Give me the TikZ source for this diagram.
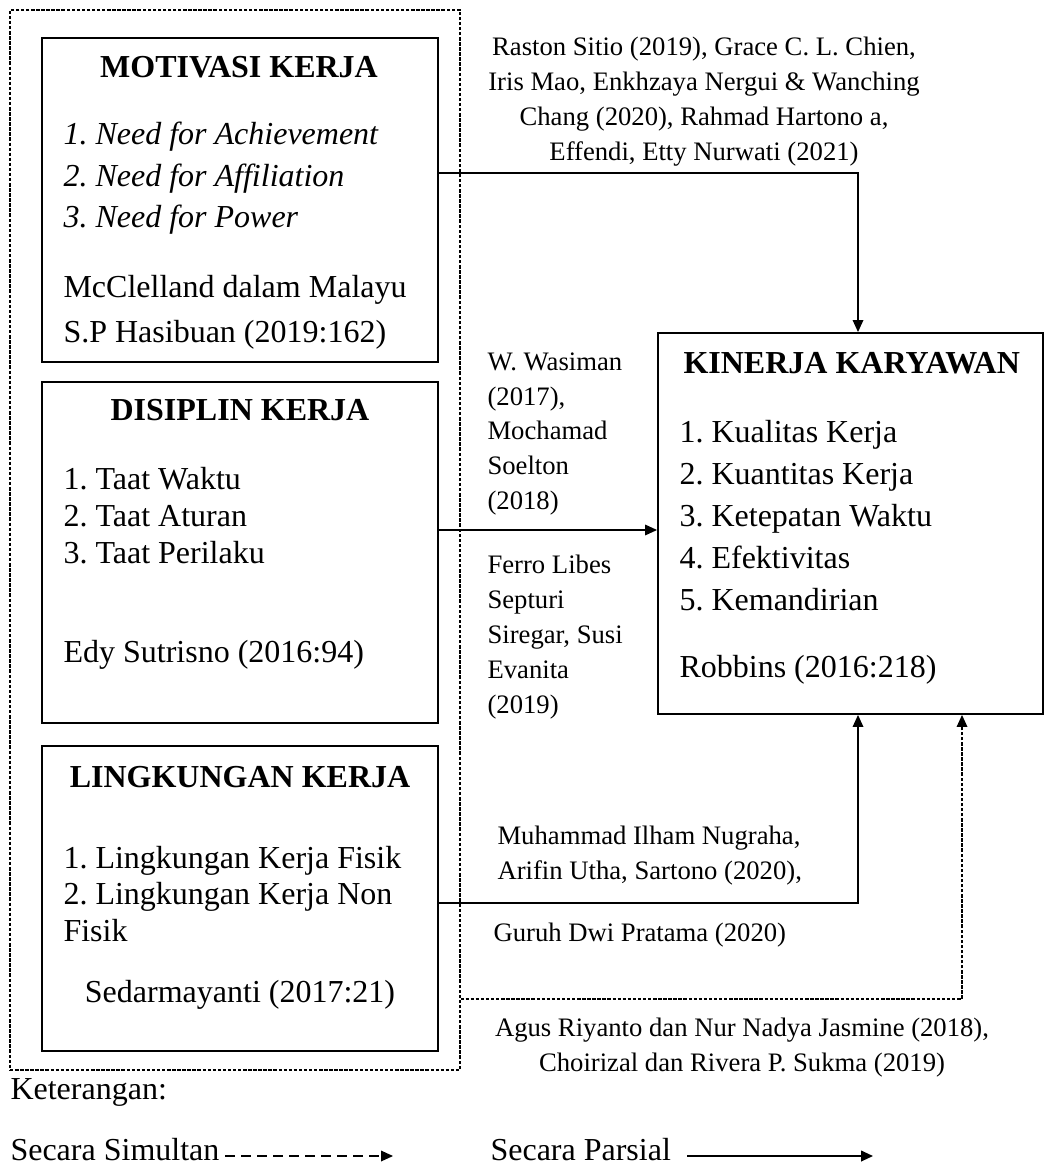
\documentclass[tikz,border=0pt]{standalone}
\usepackage{fontspec}
\setmainfont{Liberation Serif}
\usetikzlibrary{arrows.meta}
\frenchspacing

\begin{document}
\begin{tikzpicture}[x=0.375pt, y=-0.375pt,
   box/.style={draw, line width=0.7pt, inner sep=0pt},
   txt/.style={inner sep=0pt, align=left, font=\fontsize{12}{15.75}\selectfont},
   ttl/.style={inner sep=0pt, font=\fontsize{12}{14}\selectfont\bfseries},
   cite/.style={inner sep=0pt, font=\fontsize{10}{13.1}\selectfont},
   arr/.style={line width=0.45pt, -{Triangle[length=4.5pt,width=4pt]}},
   dsh/.style={dash pattern=on 1.3pt off 0.6pt}]

\useasboundingbox (0,0) rectangle (1045,1168);

% kotak variabel
   \node [box, dsh, line width=0.4pt, minimum width=168.75pt, minimum height=397.5pt] at (235,540) (outer) {};
            \node [box, minimum width=148.5pt, minimum height=121.5pt] at (240,200) (mot) {};
            \node [box, minimum width=148.5pt, minimum height=127.9pt] at (240,552.5) (dis) {};
            \node [box, minimum width=148.5pt, minimum height=114.4pt] at (240,898.5) (lin) {};
            \node [box, minimum width=144.4pt, minimum height=142.9pt] at (850.5,523.5) (kin) {};
%
\node [ttl] at (239,67) (motT) {MOTIVASI KERJA};
\node [txt, anchor=west, font=\fontsize{12}{15.6}\selectfont\itshape] at (63,178.5) (motI) {1. Need for Achievement\\2. Need for Affiliation\\3. Need for Power};
\node [txt, anchor=west, font=\fontsize{12}{16.9}\selectfont] at (63,312.5) (motS) {McClelland dalam Malayu\\S.P Hasibuan (2019:162)};
%
\node [ttl] at (240,410) (disT) {DISIPLIN KERJA};
\node [txt, anchor=west, font=\fontsize{12}{14}\selectfont] at (63,515.5) (disI) {1. Taat Waktu\\2. Taat Aturan\\3. Taat Perilaku};
\node [txt, anchor=west] at (63,655) (disS) {Edy Sutrisno (2016:94)};
%
\node [ttl] at (240,777) (linT) {LINGKUNGAN KERJA};
\node [txt, anchor=west, font=\fontsize{12}{13.6}\selectfont] at (63,894) (linI) {1. Lingkungan Kerja Fisik\\2. Lingkungan Kerja Non\\Fisik};
\node [txt] at (240,995) (linS) {Sedarmayanti (2017:21)};
%
\node [ttl, anchor=west] at (683,363) (kinT) {KINERJA KARYAWAN};
\node [txt, anchor=west] at (679,516) (kinI) {1. Kualitas Kerja\\2. Kuantitas Kerja\\3. Ketepatan Waktu\\4. Efektivitas\\5. Kemandirian};
\node [txt, anchor=west] at (679,670) (kinS) {Robbins (2016:218)};

% rujukan
\node [cite, align=center] at (704,102) (c1) {Raston Sitio (2019), Grace C. L. Chien,\\Iris Mao, Enkhzaya Nergui \& Wanching\\Chang (2020), Rahmad Hartono a,\\Effendi, Etty Nurwati (2021)};
\node [cite, align=left, anchor=west] at (487,434) (c2) {W. Wasiman\\(2017),\\Mochamad\\Soelton\\(2018)};
\node [cite, align=left, anchor=west] at (487,637) (c3) {Ferro Libes\\Septuri\\Siregar, Susi\\Evanita\\(2019)};
\node [cite, align=left, anchor=west] at (497,855.5) (c4) {Muhammad Ilham Nugraha,\\Arifin Utha, Sartono (2020),};
\node [cite, anchor=west] at (493,935) (c5) {Guruh Dwi Pratama (2020)};
\node [cite, align=center] at (742,1047.5) (c6) {Agus Riyanto dan Nur Nadya Jasmine (2018),\\Choirizal dan Rivera P. Sukma (2019)};

% panah
\coordinate (t1) at (858,173);
\coordinate (t2) at (0,530);
\coordinate (t3) at (858,903);
\coordinate (t4) at (962,999);
\draw[arr] (mot.east |- t1) -- (t1) -- (t1 |- kin.north);
\draw[arr] (dis.east |- t2) -- (kin.west |- t2);
\draw[arr] (lin.east |- t3) -- (t3) -- (t3 |- kin.south);
\draw[arr, dsh] (outer.east |- t4) -- (t4) -- (t4 |- kin.south);

% keterangan
\node [txt, anchor=west] at (10,1092) (ket) {Keterangan:};
\node [txt, anchor=west] at (10,1150) (sim) {Secara Simultan};
\node [txt, anchor=west] at (490,1150) (par) {Secara Parsial};
\coordinate (s1) at (225,1156);
\coordinate (s2) at (393,1156);
\coordinate (p1) at (687,1156);
\coordinate (p2) at (873,1156);
\draw[arr, dash pattern=on 3.6pt off 2.4pt] (s1) -- (s2);
\draw[arr, line width=0.7pt] (p1) -- (p2);

\end{tikzpicture}
\end{document}
